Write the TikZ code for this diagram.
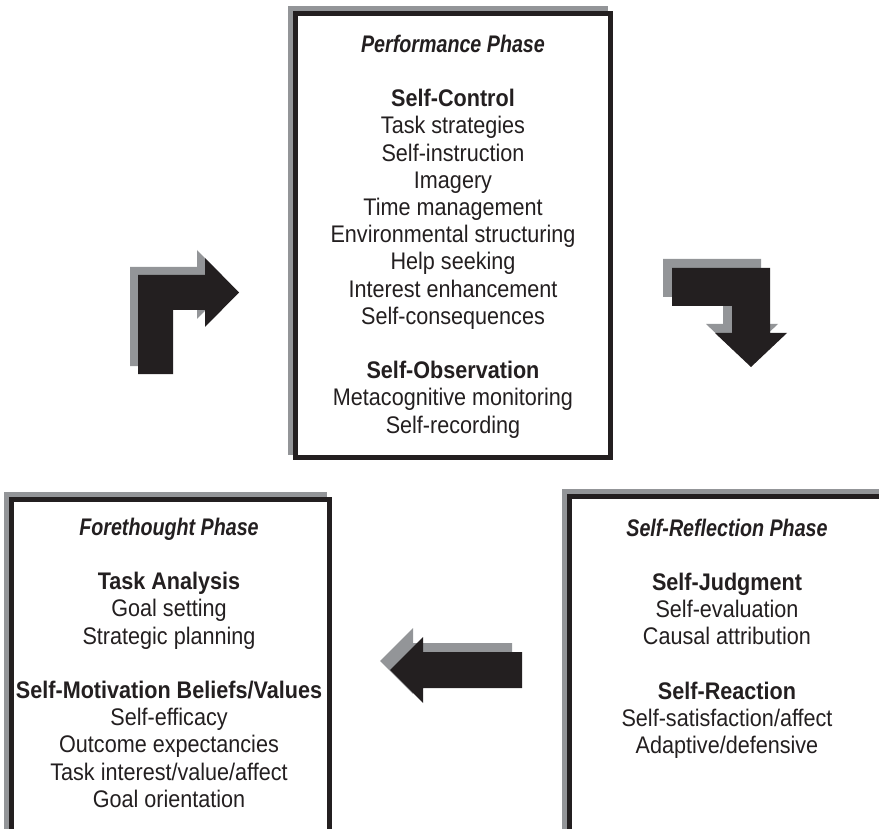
\documentclass[tikz,border=0pt]{standalone}
\usepackage{fontspec}
\setmainfont{Liberation Sans}[FakeStretch=0.9]
\newfontfamily\phasefont{Liberation Sans}[FakeStretch=0.82]
\definecolor{ink}{HTML}{231F20}
\definecolor{shade}{HTML}{939598}
\newcommand{\phasetitle}[1]{{\phasefont\bfseries\itshape #1}}
\tikzset{
  frame/.style={line width=5pt, draw=ink, fill=white},
  shadowframe/.style={line width=5pt, draw=shade},
  arrowbody/.style={fill=ink},
  arrowshade/.style={fill=shade},
  txt/.style={align=center, inner sep=0pt, text=ink, anchor=north,
    font=\fontsize{24}{27.2}\selectfont},
}
\begin{document}
\begin{tikzpicture}[x=1pt,y=-1pt]
\useasboundingbox (0,0) rectangle (879,829);
\clip (0,0) rectangle (879,829);

% ---- phase boxes: grey frame offset up-left, black frame on top ----
\draw[shadowframe] (290.5,8.5) rectangle (605.5,452.5);
\draw[frame] (295.5,13.5) rectangle (610.5,457.5);

\draw[shadowframe] (6.5,494.5) rectangle (324.5,860);
\draw[frame] (11.5,499.5) rectangle (329.5,865);

\draw[shadowframe] (564.5,491.5) rectangle (879.5,860);
\draw[frame] (569.5,496.5) rectangle (884.5,865);

% ---- texts ----
\node[txt] (perf) at (453,34.8) {\phasetitle{Performance Phase}\\[27.2pt]
  {\bfseries Self-Control}\\
  Task strategies\\
  Self-instruction\\
  Imagery\\
  Time management\\
  Environmental structuring\\
  Help seeking\\
  Interest enhancement\\
  Self-consequences\\[27.2pt]
  {\bfseries Self-Observation}\\
  Metacognitive monitoring\\
  Self-recording};

\node[txt] (fore) at (169,517.8) {\phasetitle{Forethought Phase}\\[27.2pt]
  {\bfseries Task Analysis}\\
  Goal setting\\
  Strategic planning\\[27.2pt]
  {\bfseries Self-Motivation Beliefs/Values}\\
  Self-efficacy\\
  Outcome expectancies\\
  Task interest/value/affect\\
  Goal orientation};

\node[txt] (refl) at (727,518.5) {\phasetitle{Self-Reflection Phase}\\[27.2pt]
  {\bfseries Self-Judgment}\\
  Self-evaluation\\
  Causal attribution\\[27.2pt]
  {\bfseries Self-Reaction}\\
  Self-satisfaction/affect\\
  Adaptive/defensive};

% ---- bent arrow: forethought -> performance ----
\begin{scope}[shift={(-8,-8)}]
  \fill[arrowshade] (138,374) -- (138,275) -- (205,275) -- (205,258) -- (239,292.5)
    -- (205,327) -- (205,310) -- (173,310) -- (173,374) -- cycle;
\end{scope}
\fill[arrowbody] (138,374) -- (138,275) -- (205,275) -- (205,258) -- (239,292.5)
  -- (205,327) -- (205,310) -- (173,310) -- (173,374) -- cycle;

% ---- bent arrow: performance -> self-reflection ----
\begin{scope}[shift={(-9,-9)}]
  \fill[arrowshade] (672,268) -- (770,268) -- (770,333) -- (787,333) -- (751,367)
    -- (715,333) -- (732,333) -- (732,306) -- (672,306) -- cycle;
\end{scope}
\fill[arrowbody] (672,268) -- (770,268) -- (770,333) -- (787,333) -- (751,367)
  -- (715,333) -- (732,333) -- (732,306) -- (672,306) -- cycle;

% ---- straight arrow: self-reflection -> forethought ----
\begin{scope}[shift={(-10,-9)}]
  \fill[arrowshade] (522,652) -- (423,652) -- (423,637) -- (390,670) -- (423,703)
    -- (423,688) -- (522,688) -- cycle;
\end{scope}
\fill[arrowbody] (522,652) -- (423,652) -- (423,637) -- (390,670) -- (423,703)
  -- (423,688) -- (522,688) -- cycle;
\end{tikzpicture}
\end{document}
